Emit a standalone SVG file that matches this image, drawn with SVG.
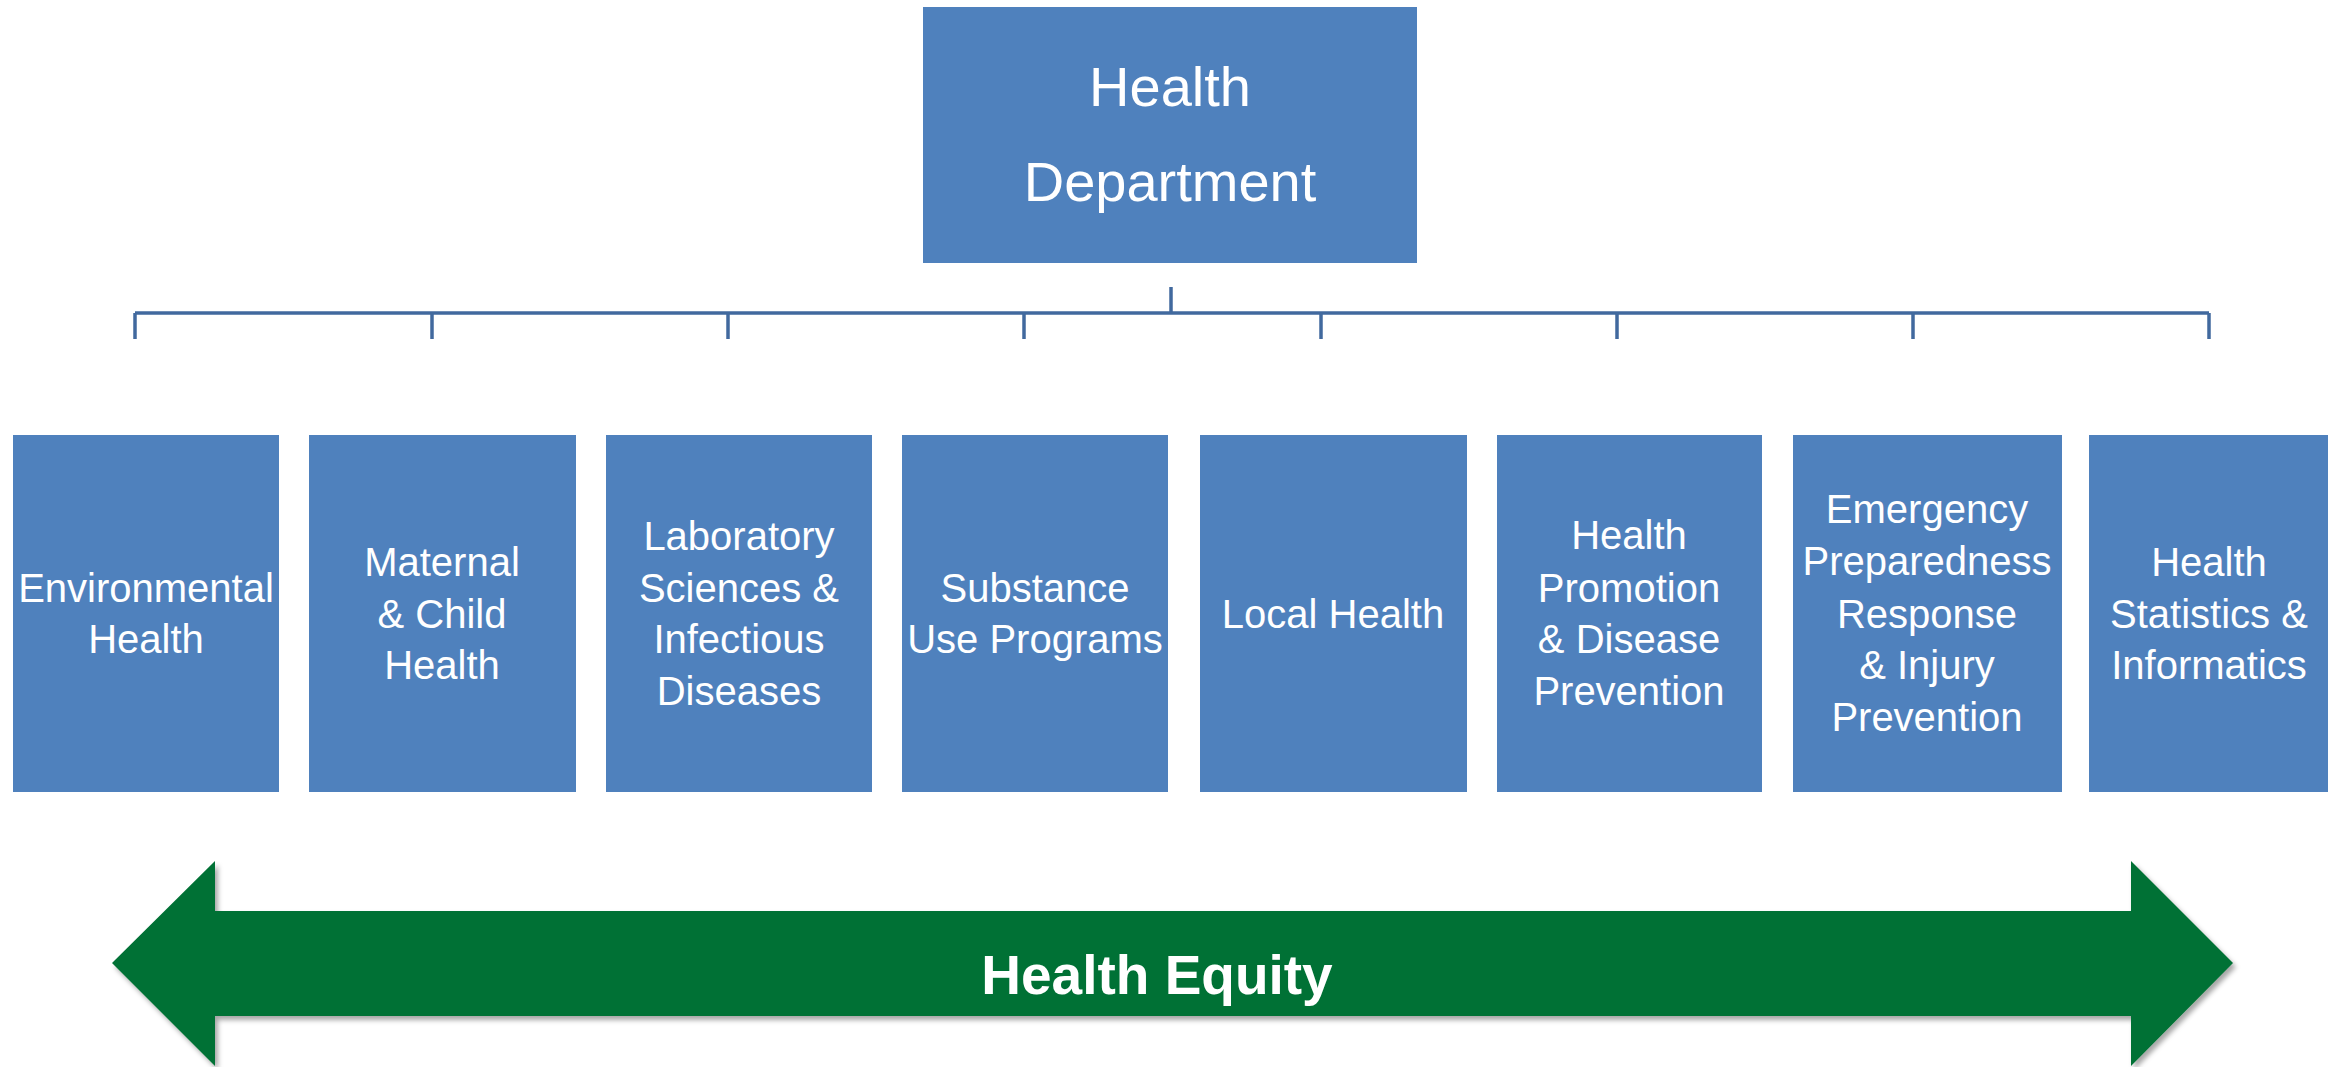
<svg xmlns="http://www.w3.org/2000/svg" width="2346" height="1067" viewBox="0 0 2346 1067">
<defs>
<style>
.box{fill:#4F81BD;}
.lbl{font-family:"Liberation Sans",Arial,sans-serif;font-size:40px;fill:#FFFFFF;text-anchor:middle;}
.top{font-family:"Liberation Sans",Arial,sans-serif;font-size:56px;fill:#FFFFFF;text-anchor:middle;}
.eq{font-family:"Liberation Sans",Arial,sans-serif;font-size:55px;font-weight:bold;fill:#FFFFFF;text-anchor:middle;}
.conn{stroke:#41699E;stroke-width:3.5;fill:none;}
</style>
<filter id="sh" x="-5%" y="-10%" width="110%" height="130%">
<feDropShadow dx="3" dy="4" stdDeviation="2.5" flood-color="#000000" flood-opacity="0.35"/>
</filter>
</defs>
<rect width="2346" height="1067" fill="#FFFFFF"/>
<g id="connectors">
<line class="conn" x1="1171" y1="287" x2="1171" y2="313"/>
<line class="conn" x1="135" y1="313" x2="2209" y2="313"/>
<line class="conn" x1="135" y1="313" x2="135" y2="339"/>
<line class="conn" x1="432" y1="313" x2="432" y2="339"/>
<line class="conn" x1="728" y1="313" x2="728" y2="339"/>
<line class="conn" x1="1024" y1="313" x2="1024" y2="339"/>
<line class="conn" x1="1321" y1="313" x2="1321" y2="339"/>
<line class="conn" x1="1617" y1="313" x2="1617" y2="339"/>
<line class="conn" x1="1913" y1="313" x2="1913" y2="339"/>
<line class="conn" x1="2209" y1="313" x2="2209" y2="339"/>
</g>
<g id="health-department">
<rect class="box" x="923" y="7" width="494" height="256"/>
<text class="top" x="1170" y="106">Health</text>
<text class="top" x="1170" y="201">Department</text>
</g>
<g id="environmental-health">
<rect class="box" x="13" y="435" width="266" height="357"/>
<text class="lbl" x="146" y="602">Environmental</text>
<text class="lbl" x="146" y="653">Health</text>
</g>
<g id="maternal-child-health">
<rect class="box" x="309" y="435" width="267" height="357"/>
<text class="lbl" x="442" y="576">Maternal</text>
<text class="lbl" x="442" y="628">&amp; Child</text>
<text class="lbl" x="442" y="679">Health</text>
</g>
<g id="laboratory-sciences">
<rect class="box" x="606" y="435" width="266" height="357"/>
<text class="lbl" x="739" y="550">Laboratory</text>
<text class="lbl" x="739" y="602">Sciences &amp;</text>
<text class="lbl" x="739" y="653">Infectious</text>
<text class="lbl" x="739" y="705">Diseases</text>
</g>
<g id="substance-use">
<rect class="box" x="902" y="435" width="266" height="357"/>
<text class="lbl" x="1035" y="602">Substance</text>
<text class="lbl" x="1035" y="653">Use Programs</text>
</g>
<g id="local-health">
<rect class="box" x="1200" y="435" width="267" height="357"/>
<text class="lbl" x="1333" y="628">Local Health</text>
</g>
<g id="health-promotion">
<rect class="box" x="1497" y="435" width="265" height="357"/>
<text class="lbl" x="1629" y="549">Health</text>
<text class="lbl" x="1629" y="602">Promotion</text>
<text class="lbl" x="1629" y="653">&amp; Disease</text>
<text class="lbl" x="1629" y="705">Prevention</text>
</g>
<g id="emergency-preparedness">
<rect class="box" x="1793" y="435" width="269" height="357"/>
<text class="lbl" x="1927" y="523">Emergency</text>
<text class="lbl" x="1927" y="575">Preparedness</text>
<text class="lbl" x="1927" y="628">Response</text>
<text class="lbl" x="1927" y="679">&amp; Injury</text>
<text class="lbl" x="1927" y="731">Prevention</text>
</g>
<g id="health-statistics">
<rect class="box" x="2089" y="435" width="239" height="357"/>
<text class="lbl" x="2209" y="576">Health</text>
<text class="lbl" x="2209" y="628">Statistics &amp;</text>
<text class="lbl" x="2209" y="679">Informatics</text>
</g>
<g id="health-equity">
<polygon points="112,963 215,861 215,911 2131,911 2131,861 2233,963 2131,1066 2131,1016 215,1016 215,1066" fill="#007135" filter="url(#sh)"/>
<text class="eq" x="1157" y="994">Health Equity</text>
</g>
</svg>
